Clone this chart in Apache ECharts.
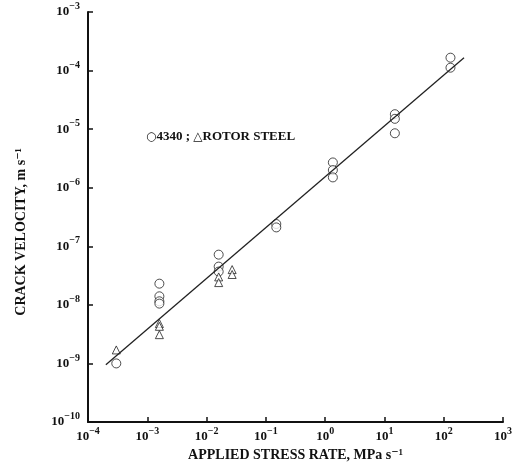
<!DOCTYPE html>
<html>
<head>
<meta charset="utf-8">
<script src="https://cdn.jsdelivr.net/npm/echarts@6/dist/echarts.min.js"></script>
<style>
html,body{margin:0;padding:0;background:#fff;}
#chart{width:515px;height:467px;}
</style>
</head>
<body>
<div id="chart"></div>
<script>
// stress rate (MPa/s) vs crack velocity (m/s), log-log
const steel4340 = [
  [3e-4, 1.0e-9],
  [1.6e-3, 2.3e-8], [1.6e-3, 1.4e-8], [1.6e-3, 1.15e-8], [1.6e-3, 1.05e-8],
  [1.6e-2, 7.2e-8], [1.6e-2, 4.5e-8], [1.6e-2, 3.7e-8],
  [0.15, 2.4e-7], [0.15, 2.1e-7],
  [1.35, 2.7e-6], [1.35, 2.0e-6], [1.35, 1.5e-6],
  [15, 1.8e-5], [15, 1.5e-5], [15, 8.5e-6],
  [130, 1.66e-4], [130, 1.12e-4]
]
const rotorSteel = [
  [3e-4, 1.7e-9],
  [1.6e-3, 4.8e-9], [1.6e-3, 4.3e-9], [1.6e-3, 3.1e-9],
  [1.6e-2, 3.0e-8], [1.6e-2, 2.4e-8],
  [2.7e-2, 4.0e-8], [2.7e-2, 3.3e-8]
]
const fitLine = [[2e-4, 9.5e-10], [220, 1.65e-4]]

function powLabel(v){
  const e = Math.round(Math.log10(v))
  return '{b|10}{s|' + String(e).replace('-', '−') + '}'
}

const serif = '"Liberation Serif","DejaVu Serif",serif'
const labelRich = {
  b:{fontFamily:serif, fontSize:13, fontWeight:'bold', color:'#111', lineHeight:13, verticalAlign:'bottom'},
  s:{fontFamily:serif, fontSize:10, fontWeight:'bold', color:'#111', lineHeight:10, padding:[0,0,7,0], verticalAlign:'bottom'}
}
const axisCommon = {
  type:'log',
  logBase:10,
  axisLine:{show:true, lineStyle:{color:'#111', width:2}},
  axisTick:{show:true, inside:true, length:5, lineStyle:{color:'#111', width:1.5}},
  minorTick:{show:false},
  splitLine:{show:false},
  axisLabel:{formatter:powLabel, rich:labelRich},
  nameLocation:'middle',
  nameTextStyle:{color:'#111', fontFamily:serif, fontSize:14, fontWeight:'bold'}
}

const chart = echarts.init(document.getElementById('chart'))
chart.setOption({
  backgroundColor:'#fff',
  animation:false,
  grid:{left:88, right:10, top:12, bottom:45},
  xAxis:Object.assign({}, axisCommon, {
    min:1e-4, max:1e3,
    name:'APPLIED STRESS RATE, MPa s⁻¹',
    nameGap:26,
    axisLabel:Object.assign({}, axisCommon.axisLabel, {margin:8})
  }),
  yAxis:Object.assign({}, axisCommon, {
    min:1e-10, max:1e-3,
    name:'CRACK VELOCITY, m s⁻¹',
    nameGap:60,
    nameTextStyle:Object.assign({}, axisCommon.nameTextStyle, {padding:[0,0,0,-30]}),
    axisLabel:Object.assign({}, axisCommon.axisLabel, {margin:8})
  }),
  graphic:[{
    type:'text',
    left:146, top:130,
    style:{
      text:'{g|○}{t|4340 ; }{g|△}{t|ROTOR STEEL}',
      rich:{
        g:{fontFamily:'"DejaVu Sans",sans-serif', fontSize:12, fill:'#111', verticalAlign:'bottom', lineHeight:16},
        t:{fontFamily:serif, fontSize:13, fontWeight:'bold', fill:'#111', verticalAlign:'bottom', lineHeight:16}
      }
    }
  }],
  series:[
    {
      type:'line',
      data:fitLine,
      symbol:'none',
      lineStyle:{color:'#222', width:1.3},
      silent:true
    },
    {
      type:'scatter',
      data:steel4340,
      symbol:'circle',
      symbolSize:9,
      itemStyle:{color:'#fff', borderColor:'#222', borderWidth:1}
    },
    {
      type:'scatter',
      data:rotorSteel,
      symbol:'triangle',
      symbolSize:8,
      itemStyle:{color:'#fff', borderColor:'#222', borderWidth:1}
    }
  ]
})
</script>
</body>
</html>
